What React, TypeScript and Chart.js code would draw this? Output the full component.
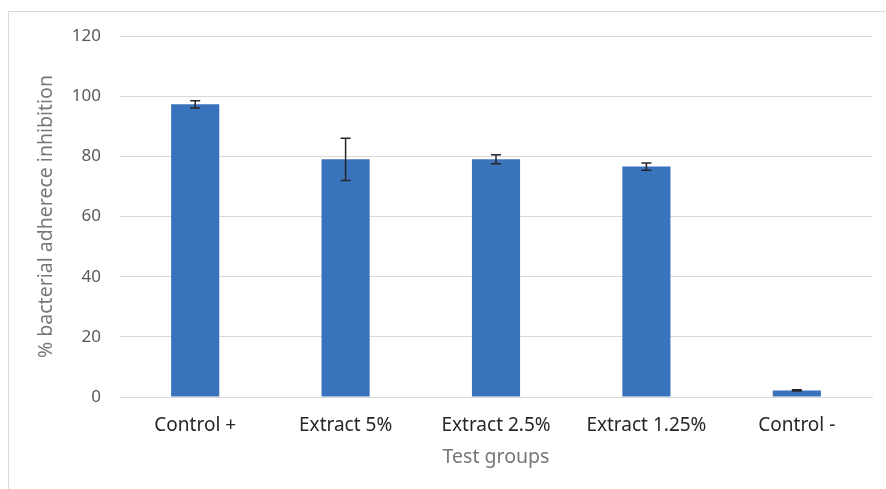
import React, { useEffect, useRef } from "react";
import { Chart, registerables } from "chart.js";

Chart.register(...registerables);

const categories = ["Control +", "Extract 5%", "Extract 2.5%", "Extract 1.25%", "Control -"];
const values = [97.3, 79.0, 79.0, 76.6, 2.2];
const errors = [1.2, 7.0, 1.5, 1.2, 0.2];
const yTicks = [0, 20, 40, 60, 80, 100, 120];
const yTitle = "% bacterial adherece inhibition";
const xTitle = "Test groups";

const FONT = "'Noto Sans', 'Open Sans', sans-serif";

const errorBarPlugin = {
  id: "errorBars",
  afterDatasetsDraw(chart: any) {
    const ctx = chart.ctx;
    const meta = chart.getDatasetMeta(0);
    const y = chart.scales.y;
    ctx.save();
    ctx.strokeStyle = "#262626";
    ctx.lineWidth = 1.5;
    meta.data.forEach((bar: any, i: number) => {
      const x = bar.x;
      const top = y.getPixelForValue(values[i] + errors[i]);
      const bot = y.getPixelForValue(values[i] - errors[i]);
      ctx.beginPath();
      ctx.moveTo(x, top);
      ctx.lineTo(x, bot);
      ctx.moveTo(x - 5, top);
      ctx.lineTo(x + 5, top);
      ctx.moveTo(x - 5, bot);
      ctx.lineTo(x + 5, bot);
      ctx.stroke();
    });
    ctx.restore();
  },
};

export default function App() {
  const ref = useRef<HTMLCanvasElement>(null);
  useEffect(() => {
    if (!ref.current) return;
    const chart = new Chart(ref.current, {
      type: "bar",
      data: {
        labels: categories,
        datasets: [
          {
            data: values,
            backgroundColor: "#3873BB",
            categoryPercentage: 1,
            barPercentage: 0.32,
          },
        ],
      },
      plugins: [errorBarPlugin],
      options: {
        animation: false,
        responsive: false,
        maintainAspectRatio: false,
        layout: { padding: { top: 36, right: 14, left: 0, bottom: 0 } },
        plugins: { legend: { display: false }, tooltip: { enabled: false } },
        scales: {
          x: {
            grid: { display: false, drawTicks: false },
            border: { display: true, color: "#d9d9d9", width: 1 },
            ticks: { color: "#262626", font: { family: FONT, size: 19 }, padding: 17, maxRotation: 0 },
            title: {
              display: true,
              text: xTitle,
              color: "#767676",
              font: { family: FONT, size: 19.5 },
              padding: { top: 0, bottom: 20 },
            },
            afterFit(scale: any) {
              scale.height = 92;
            },
          },
          y: {
            min: 0,
            max: 120,
            afterBuildTicks(scale: any) {
              scale.ticks = yTicks.map((v) => ({ value: v }));
            },
            grid: { color: "#d9d9d9", lineWidth: 1, drawTicks: false },
            border: { display: false },
            ticks: { color: "#595959", font: { family: FONT, size: 17 }, padding: 19 },
            title: {
              display: true,
              text: yTitle,
              color: "#767676",
              font: { family: FONT, size: 19.5 },
              padding: { top: 35, bottom: 0 },
            },
            afterFit(scale: any) {
              scale.width = 120;
            },
          },
        },
      },
    });
    return () => chart.destroy();
  }, []);
  return (
    <div style={{ position: "absolute", left: 0, top: 0, width: 886, height: 489, overflow: "hidden", background: "#fff" }}>
      <div
        style={{
          position: "absolute",
          left: 8,
          top: 11,
          width: 900,
          height: 500,
          border: "1px solid #d9d9d9",
          boxSizing: "border-box",
        }}
      />
      <canvas ref={ref} width={886} height={489} style={{ position: "absolute", left: 0, top: 0, width: 886, height: 489 }} />
    </div>
  );
}
